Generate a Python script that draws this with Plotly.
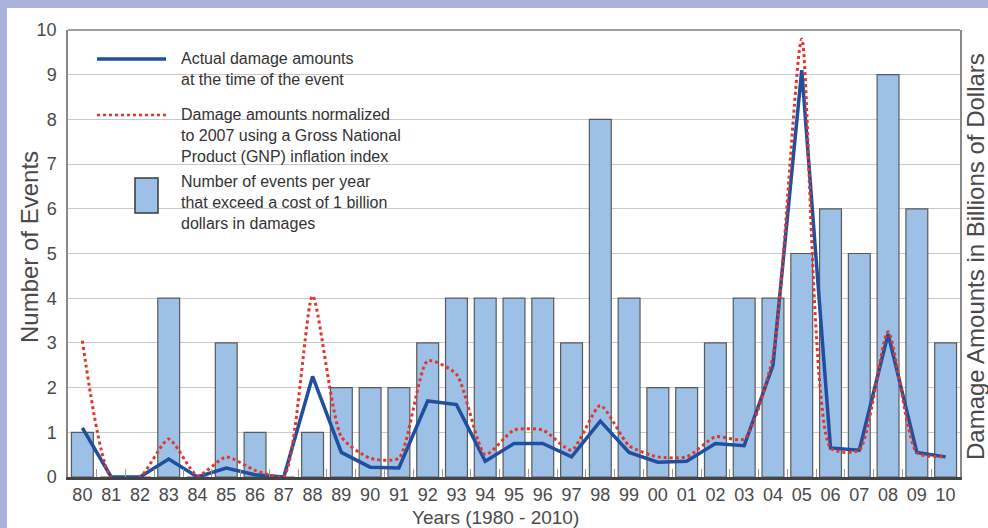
import plotly.graph_objects as go

years = ["80","81","82","83","84","85","86","87","88","89","90","91","92","93","94","95",
         "96","97","98","99","00","01","02","03","04","05","06","07","08","09","10"]
events = [1,0,0,4,0,3,1,0,1,2,2,2,3,4,4,4,4,3,8,4,2,2,3,4,4,5,6,5,9,6,3]
actual = [1.1,0,0,0.4,0,0.2,0.05,0,2.25,0.55,0.22,0.2,1.7,1.62,0.35,0.75,0.75,0.45,1.25,
          0.55,0.33,0.35,0.75,0.7,2.5,9.1,0.65,0.6,3.2,0.55,0.45]
normalized = [3.05,0,0,0.85,0.03,0.45,0.15,0.02,4.05,0.9,0.42,0.42,2.6,2.3,0.5,1.05,1.05,
              0.6,1.6,0.7,0.45,0.45,0.9,0.85,2.7,9.8,0.65,0.6,3.25,0.55,0.45]
y_ticks = list(range(0, 11))

W, H = 988, 528
L, R, T, B = 68, 28, 30, 51
PW, PH = W - L - R, H - T - B

def px(x):
    return (x - L) / PW

def py(y):
    return (H - B - y) / PH

FONT = "Liberation Sans, Arial, Helvetica, sans-serif"
BAR_FILL = "#9dc0e6"
BLUE = "#1f4f9e"
RED = "#e2362b"
TXT = "#4a4a4a"

fig = go.Figure()
fig.add_trace(go.Bar(x=years, y=events, marker=dict(color=BAR_FILL, line=dict(color="#5a5a5a", width=1.2)),
                     showlegend=False, name="Number of events"))
fig.add_trace(go.Scatter(x=years, y=actual, mode="lines", yaxis="y2",
                         line=dict(color=BLUE, width=3.5), showlegend=False, name="Actual"))
fig.add_trace(go.Scatter(x=years, y=normalized, mode="lines", yaxis="y2",
                         line=dict(color=RED, width=3, dash="dot", shape="spline", smoothing=0.6),
                         showlegend=False, name="Normalized"))

shapes = [
    # white panel over lavender background
    dict(type="rect", xref="paper", yref="paper", x0=px(7), x1=px(995), y0=py(535), y1=py(8),
         fillcolor="white", line=dict(width=0), layer="below"),
    # top border of frame
    dict(type="line", xref="paper", yref="paper", x0=0, x1=1, y0=1, y1=1,
         line=dict(color="#808080", width=1.5)),
    # legend symbols
    dict(type="line", xref="paper", yref="paper", x0=px(97), x1=px(166), y0=py(59), y1=py(59),
         line=dict(color=BLUE, width=3.5)),
    dict(type="line", xref="paper", yref="paper", x0=px(97), x1=px(166), y0=py(115), y1=py(115),
         line=dict(color=RED, width=2.5, dash="dot")),
    dict(type="rect", xref="paper", yref="paper", x0=px(135), x1=px(158), y0=py(213), y1=py(178),
         fillcolor=BAR_FILL, line=dict(color="#3a3a3a", width=1.5)),
]

legend_texts = [
    ("Actual damage amounts<br>at the time of the event", 48),
    ("Damage amounts normalized<br>to 2007 using a Gross National<br>Product (GNP) inflation index", 104),
    ("Number of events per year<br>that exceed a cost of 1 billion<br>dollars in damages", 171),
]
annotations = []
for txt, ytop in legend_texts:
    annotations.append(dict(text=txt, xref="paper", yref="paper", x=px(179), y=py(ytop),
                            xanchor="left", yanchor="top", align="left", showarrow=False,
                            font=dict(family=FONT, size=16, color="#333333")))
annotations.append(dict(text="Damage Amounts in Billions of Dollars", xref="paper", yref="paper",
                        x=px(975), y=py(257), xanchor="center", yanchor="middle", textangle=-90,
                        showarrow=False, font=dict(family=FONT, size=24, color=TXT)))
annotations.append(dict(text="Number of Events", xref="paper", yref="paper",
                        x=px(29), y=py(247), xanchor="center", yanchor="middle", textangle=-90,
                        showarrow=False, font=dict(family=FONT, size=24, color=TXT)))
annotations.append(dict(text="Years (1980 - 2010)", xref="paper", yref="paper",
                        x=px(495), y=py(517), xanchor="center", yanchor="middle",
                        showarrow=False, font=dict(family=FONT, size=19, color=TXT)))

fig.update_layout(
    width=W, height=H,
    margin=dict(l=L, r=R, t=T, b=B, pad=0),
    paper_bgcolor="#aab3dc",
    plot_bgcolor="white",
    bargap=0.24,
    font=dict(family=FONT, color=TXT),
    shapes=shapes,
    annotations=annotations,
    xaxis=dict(
        type="category", categoryorder="array", categoryarray=years,
        tickfont=dict(size=18, color=TXT), tickangle=0,
        ticks="inside", tickson="boundaries", ticklen=8, tickcolor="#999999", tickwidth=1,
        showline=True, linecolor="#444444", linewidth=2.5, mirror=False,
        showgrid=False,
    ),
    yaxis=dict(
        range=[0, 10], tickvals=y_ticks, tickfont=dict(size=18, color=TXT),
        showgrid=True, gridcolor="#c9c9c9", gridwidth=1,
        showline=True, linecolor="#888888", linewidth=1.5, mirror=False,
        ticks="outside", ticklen=6, tickcolor="rgba(0,0,0,0)", zeroline=False,
    ),
    yaxis2=dict(
        range=[0, 10], overlaying="y", side="right", showticklabels=False,
        showgrid=False, zeroline=False, ticks="",
        showline=True, linecolor="#888888", linewidth=1.5,
    ),
)

fig.write_html("out.html", config={"displayModeBar": False},
               post_script="document.body.style.margin='0';document.body.style.overflow='hidden';")
